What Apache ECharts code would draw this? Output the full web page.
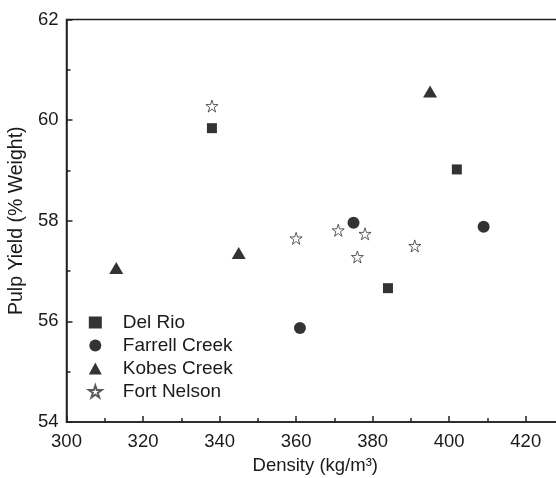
<!DOCTYPE html>
<html><head><meta charset="utf-8">
<script src="https://cdn.jsdelivr.net/npm/echarts@6/dist/echarts.min.js"></script>
<style>html,body{margin:0;padding:0;background:#fff}#c{width:556px;height:478px}</style>
</head><body><div id="c"></div>
<script>
const seriesNames = ['Del Rio', 'Farrell Creek', 'Kobes Creek', 'Fort Nelson'];
const delRio = [[338, 59.84], [402, 59.02], [384, 56.66]];
const farrellCreek = [[375, 57.96], [409, 57.88], [361, 55.87]];
const kobesCreek = [[395, 60.57], [313, 57.06], [345, 57.36]];
const fortNelson = [[338, 60.28], [360, 57.65], [371, 57.81], [378, 57.74], [376, 57.28], [391, 57.50]];
const xTicks = [300, 320, 340, 360, 380, 400, 420];
const yTicks = [54, 56, 58, 60, 62];

const FONT = 'Liberation Sans, Arial, sans-serif';
const TXT = '#1a1a1a';
const starPath = 'path://M50,2 L61.2,36.5 L97.6,36.5 L68.2,57.9 L79.4,92.4 L50,71 L20.6,92.4 L31.8,57.9 L2.4,36.5 L38.8,36.5 Z';

const chart = echarts.init(document.getElementById('c'), null, {renderer: 'canvas'});
const axisCommon = {
  axisLine: {show: true, lineStyle: {color: '#222', width: 1.5}},
  axisTick: {show: true, inside: true, length: 6, lineStyle: {color: '#222', width: 1.5}},
  minorTick: {show: true, splitNumber: 2, length: 4, lineStyle: {color: '#222', width: 1.5}},
  splitLine: {show: false},
  axisLabel: {color: TXT, fontSize: 18.5, fontFamily: FONT},
  nameTextStyle: {color: TXT, fontSize: 18.5, fontFamily: FONT}
};
chart.setOption({
  backgroundColor: '#fff',
  animation: false,
  grid: {left: 66.5, right: -8, top: 19.5, bottom: 56, show: true, borderColor: '#222', borderWidth: 1.5,
         backgroundColor: 'transparent', containLabel: false, outerBoundsMode: 'none'},
  legend: {
    orient: 'vertical', left: 83, top: 308, itemGap: 4, itemWidth: 13, itemHeight: 12,
    data: seriesNames,
    textStyle: {color: TXT, fontSize: 19, fontFamily: FONT, padding: [0, 0, 0, 16]}
  },
  xAxis: Object.assign({}, axisCommon, {
    type: 'value', min: 300, max: 430, interval: 20,
    name: 'Density (kg/m³)', nameLocation: 'middle', nameGap: 34,
    axisLabel: Object.assign({}, axisCommon.axisLabel, {margin: 10,
      formatter: v => xTicks.includes(v) ? String(v) : ''})
  }),
  yAxis: Object.assign({}, axisCommon, {
    type: 'value', min: 54, max: 62, interval: 2,
    name: 'Pulp Yield (% Weight)', nameLocation: 'middle', nameGap: 38,
    nameTextStyle: {color: TXT, fontSize: 19.5, fontFamily: FONT},
    axisLabel: Object.assign({}, axisCommon.axisLabel, {margin: 8,
      formatter: v => yTicks.includes(v) ? String(v) : ''})
  }),
  series: [
    {name: seriesNames[0], type: 'scatter', data: delRio, symbol: 'rect', symbolSize: 10, itemStyle: {color: '#000'}},
    {name: seriesNames[1], type: 'scatter', data: farrellCreek, symbol: 'circle', symbolSize: 12, itemStyle: {color: '#000'}},
    {name: seriesNames[2], type: 'scatter', data: kobesCreek, symbol: 'triangle', symbolSize: [14, 12], itemStyle: {color: '#000'}},
    {name: seriesNames[3], type: 'scatter', data: fortNelson, symbol: starPath, symbolSize: 12, itemStyle: {color: '#fff', borderColor: '#333', borderWidth: 1}}
  ]
});
</script></body></html>
